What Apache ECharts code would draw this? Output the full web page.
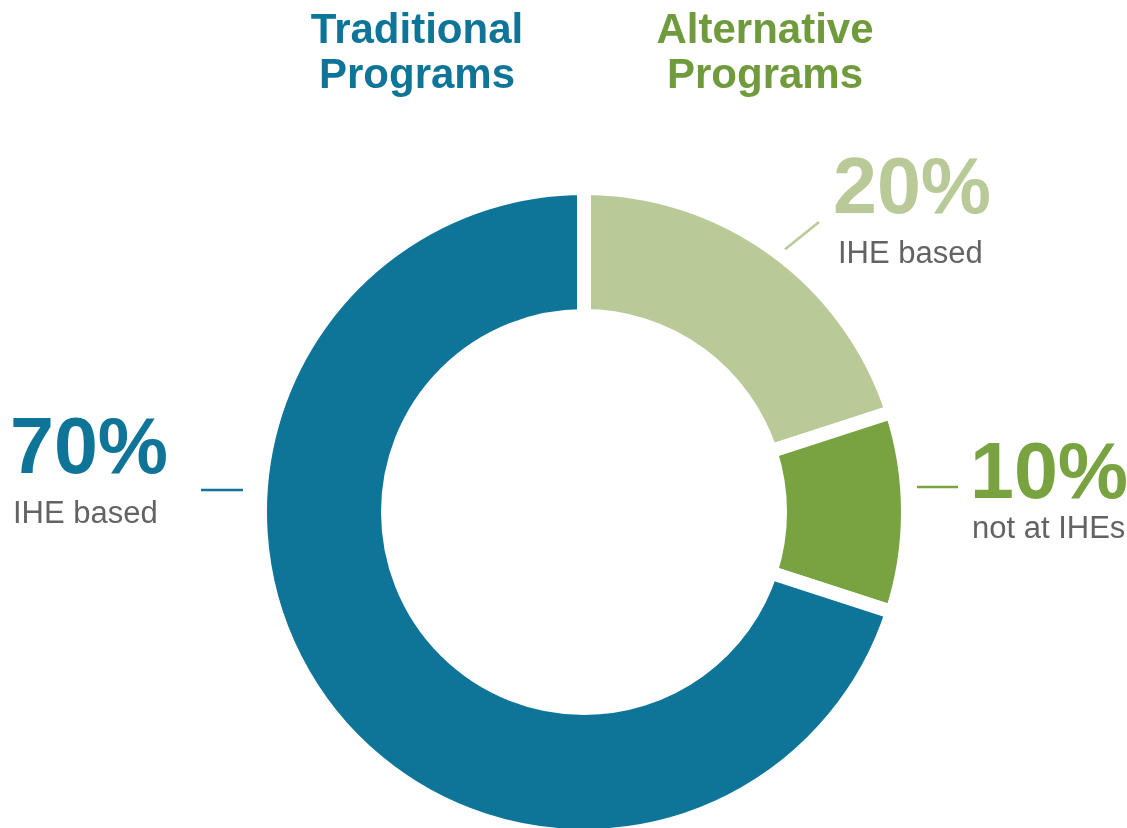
<!DOCTYPE html>
<html>
<head>
<meta charset="utf-8">
<script src="https://cdn.jsdelivr.net/npm/echarts@6/dist/echarts.min.js"></script>
<style>
html,body{margin:0;padding:0;background:#fff;}
#chart{width:1127px;height:828px;}
</style>
</head>
<body>
<div id="chart"></div>
<script>
// ---- data ----
const categories = ['Alternative IHE based', 'Alternative not at IHEs', 'Traditional IHE based'];
const values = [20, 10, 70];
const subLabels = ['IHE based', 'not at IHEs', 'IHE based'];
const groupTitles = [['Traditional', 'Programs'], ['Alternative', 'Programs']];

// ---- styles ----
const colors = ['#B9C997', '#79A341', '#0E7598'];
const textColors = ['#B9C997', '#79A341', '#0E7598'];
const titleColors = ['#0E7598', '#6F9B3C'];
const gray = '#626365';

const chart = echarts.init(document.getElementById('chart'), null, {renderer: 'canvas'});

const bold = (s) => 'bold ' + s + 'px "Liberation Sans", Arial, sans-serif';
const reg = (s) => s + 'px "Liberation Sans", Arial, sans-serif';

function txt(text, x, y, font, fill, align) {
  return {type: 'text', silent: true, style: {text: text, x: x, y: y, font: font, fill: fill, align: align || 'left', verticalAlign: 'middle'}};
}
function line(x1, y1, x2, y2, color) {
  return {type: 'line', silent: true, shape: {x1: x1, y1: y1, x2: x2, y2: y2}, style: {stroke: color, lineWidth: 2.5}};
}

const pct = values.map(v => v + '%');

const graphics = [
  // headings
  txt(groupTitles[0][0], 417, 31, bold(42), titleColors[0], 'center'),
  txt(groupTitles[0][1], 417, 76, bold(42), titleColors[0], 'center'),
  txt(groupTitles[1][0], 765, 31, bold(42), titleColors[1], 'center'),
  txt(groupTitles[1][1], 765, 76, bold(42), titleColors[1], 'center'),
  // 70%
  txt(pct[2], 10, 451, bold(79), textColors[2]),
  txt(subLabels[2], 13, 514, reg(31), gray),
  line(201, 490, 243, 490, colors[2]),
  // 20%
  txt(pct[0], 833, 191, bold(79), textColors[0]),
  txt(subLabels[0], 838, 254, reg(31), gray),
  line(783, 251, 819, 222, colors[0]),
  // 10%
  txt(pct[1], 970, 476, bold(79), textColors[1]),
  txt(subLabels[1], 972, 529, reg(31), gray),
  line(917, 487, 958, 487, colors[1])
];

chart.setOption({
  animation: false,
  backgroundColor: '#ffffff',
  graphic: graphics,
  series: [{
    type: 'pie',
    center: [584, 512],
    radius: [196, 324],
    startAngle: 90,
    clockwise: true,
    silent: true,
    label: {show: false},
    labelLine: {show: false},
    emphasis: {disabled: true},
    itemStyle: {borderColor: '#ffffff', borderWidth: 14},
    data: categories.map((c, i) => ({name: c, value: values[i], itemStyle: {color: colors[i]}}))
  }]
});
</script>
</body>
</html>
